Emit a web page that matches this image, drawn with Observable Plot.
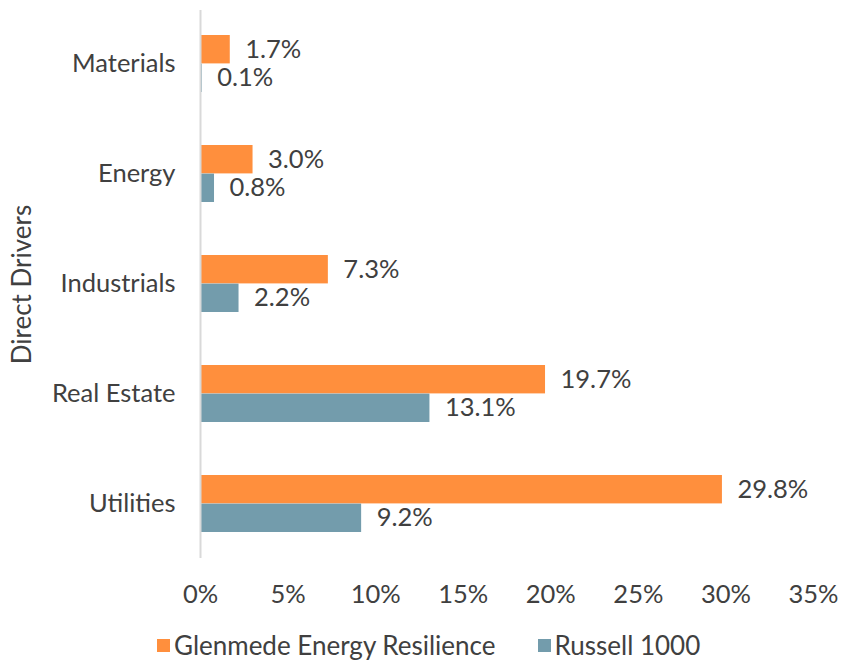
<!DOCTYPE html>
<html>
<head>
<meta charset="utf-8">
<script src="https://cdn.jsdelivr.net/npm/d3@7"></script>
<script src="https://cdn.jsdelivr.net/npm/@observablehq/plot@0.6"></script>
<style>
  html, body { margin: 0; padding: 0; background: #fff; }
  body { width: 841px; height: 660px; overflow: hidden; font-family: Lato, "Open Sans", sans-serif; }
  #legend { display: flex; align-items: center; height: 30px; margin-top: 10px; padding-left: 157px; font-size: 26px; color: #404040; }
  .item { display: flex; align-items: center; margin-right: 42px; }
  .sw { width: 13px; height: 13px; margin-right: 4px; }
</style>
</head>
<body>
<div id="chart"></div>
<div id="legend"></div>
<script>
const categories = ["Materials", "Energy", "Industrials", "Real Estate", "Utilities"];
const series = ["Glenmede Energy Resilience", "Russell 1000"];
const glenmede = [1.7, 3.0, 7.3, 19.7, 29.8];
const russell = [0.1, 0.8, 2.2, 13.1, 9.2];
const xTicks = [0, 5, 10, 15, 20, 25, 30, 35];
const yTitle = "Direct Drivers";
const colors = ["#ff8f3d", "#739cac"];

const rowsG = categories.map((c, i) => ({category: c, series: series[0], value: glenmede[i]}));
const rowsR = categories.map((c, i) => ({category: c, series: series[1], value: russell[i]}));

const textColor = "#404040";
const half = 110 * 0.52 / 2;

const chart = Plot.plot({
  width: 841,
  height: 620,
  marginLeft: 200,
  marginRight: 28,
  marginTop: 9,
  marginBottom: 61,
  style: {fontFamily: "Lato, 'Open Sans', sans-serif", fontSize: "25.5px", color: textColor, background: "#fff"},
  x: {domain: [0, 35], ticks: xTicks, tickFormat: d => d + "%", tickSize: 0, tickPadding: 25, label: null},
  y: {domain: categories, paddingInner: 0.48, paddingOuter: 0.24, tickSize: 0, tickPadding: 25, label: null},
  marks: [
    Plot.barX(rowsG, {x: "value", y: "category", fill: colors[0], insetBottom: half}),
    Plot.barX(rowsR, {x: "value", y: "category", fill: colors[1], insetTop: half}),
    Plot.ruleX([0], {stroke: "#d9d9d9", strokeWidth: 2, insetTop: 1, insetBottom: 1}),
    Plot.text(rowsG, {x: "value", y: "category", text: d => d.value.toFixed(1) + "%", dx: 15, dy: -half / 2,
      textAnchor: "start", fill: textColor, fontSize: 25.5}),
    Plot.text(rowsR, {x: "value", y: "category", text: d => d.value.toFixed(1) + "%", dx: 15, dy: half / 2,
      textAnchor: "start", fill: textColor, fontSize: 25.5}),
    Plot.text([yTitle], {frameAnchor: "left", dx: -178, rotate: -90, textAnchor: "middle", lineAnchor: "middle",
      fill: textColor, fontSize: 26})
  ]
});
document.getElementById("chart").appendChild(chart);

const legend = document.getElementById("legend");
series.forEach((s, i) => {
  const it = document.createElement("div");
  it.className = "item";
  const sw = document.createElement("div");
  sw.className = "sw";
  sw.style.background = colors[i];
  const t = document.createElement("span");
  t.textContent = s;
  it.appendChild(sw);
  it.appendChild(t);
  legend.appendChild(it);
});
</script>
</body>
</html>
